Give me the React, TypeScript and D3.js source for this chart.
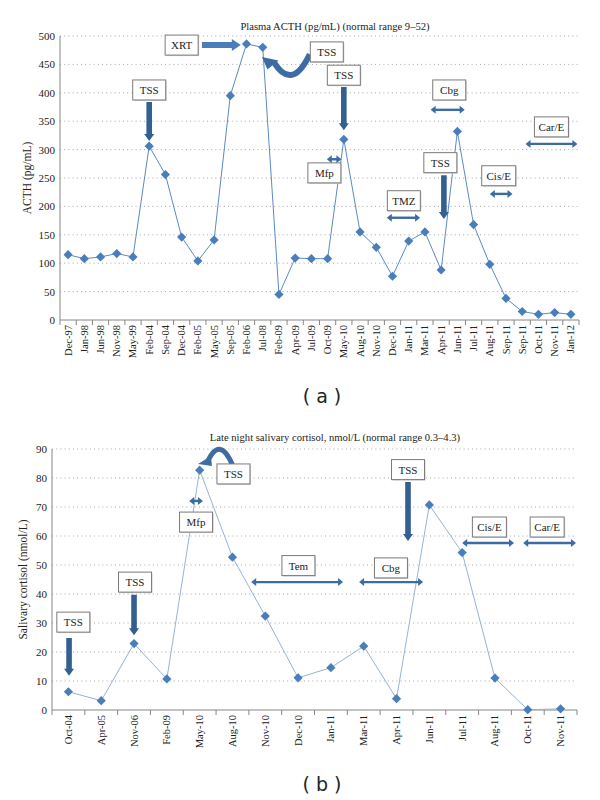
import React from "react";
import * as d3 from "d3";

// ---------- Data ----------
const acthDates = ["Dec-97","Jan-98","Jun-98","Nov-98","May-99","Feb-04","Sep-04","Dec-04","Feb-05","May-05","Sep-05","Feb-06","Jul-08","Feb-09","Apr-09","Jul-09","Oct-09","May-10","Aug-10","Nov-10","Dec-10","Jan-11","Mar-11","Apr-11","Jun-11","Jul-11","Aug-11","Sep-11","Sep-11","Oct-11","Nov-11","Jan-12"];
const acthValues = [115,108,111,117,111,306,256,146,104,141,395,486,480,45,109,108,108,318,155,128,77,139,155,88,332,168,98,38,15,10,13,10];
const acthTicks = [0,50,100,150,200,250,300,350,400,450,500];

const cortDates = ["Oct-04","Apr-05","Nov-06","Feb-09","May-10","Aug-10","Nov-10","Dec-10","Jan-11","Mar-11","Apr-11","Jun-11","Jul-11","Aug-11","Oct-11","Nov-11"];
const cortValues = [6.3,3.2,22.9,10.7,82.7,52.7,32.4,11.1,14.6,22.0,3.9,70.7,54.3,11.0,0.1,0.4];
const cortTicks = [0,10,20,30,40,50,60,70,80,90];

// annotations in data space (x = category index, y = value)
const acthBoxes = [
  { t: "XRT", x: 7.0, y: 484 },
  { t: "TSS", x: 5.0, y: 405 },
  { t: "TSS", x: 15.95, y: 472 },
  { t: "TSS", x: 17.0, y: 431 },
  { t: "Mfp", x: 15.8, y: 259 },
  { t: "Cbg", x: 23.5, y: 405 },
  { t: "TSS", x: 22.95, y: 277 },
  { t: "Cis/E", x: 26.55, y: 254 },
  { t: "Car/E", x: 29.8, y: 340 },
  { t: "TMZ", x: 20.7, y: 210 },
];
const acthDown = [
  { x: 5.0, y1: 384, y2: 315 },
  { x: 17.0, y1: 410, y2: 334 },
  { x: 23.17, y1: 255, y2: 178 },
];
const acthDouble = [
  { x1: 15.95, x2: 16.85, y: 283 },
  { x1: 22.35, x2: 24.45, y: 370 },
  { x1: 26.0, x2: 27.4, y: 222 },
  { x1: 28.2, x2: 31.4, y: 310 },
  { x1: 19.65, x2: 21.7, y: 180 },
];

const cortBoxes = [
  { t: "TSS", x: 0.15, y: 30.3 },
  { t: "TSS", x: 2.03, y: 44.1 },
  { t: "TSS", x: 5.03, y: 81.4 },
  { t: "Mfp", x: 3.89, y: 64.8 },
  { t: "Tem", x: 7.01, y: 49.8 },
  { t: "Cbg", x: 9.83, y: 49.0 },
  { t: "TSS", x: 10.35, y: 82.9 },
  { t: "Cis/E", x: 12.83, y: 63.1 },
  { t: "Car/E", x: 14.59, y: 63.1 },
];
const cortDown = [
  { x: 0.02, y1: 24.8, y2: 11.8 },
  { x: 2.0, y1: 39.7, y2: 25.8 },
  { x: 10.35, y1: 78.6, y2: 58.3 },
];
const cortDouble = [
  { x1: 3.68, x2: 4.1, y: 72.1 },
  { x1: 5.57, x2: 8.37, y: 44.1 },
  { x1: 8.86, x2: 10.81, y: 44.1 },
  { x1: 12.0, x2: 13.58, y: 57.6 },
  { x1: 13.86, x2: 15.47, y: 57.6 },
];

const FONT = "'Liberation Serif', 'Times New Roman', serif";
const AXIS = "#868686";
const DARK = "#335f91";
const MID = "#3d6ca3";

function diamond(cx: number, cy: number, r: number) {
  return `M${cx},${cy - r}L${cx + r},${cy}L${cx},${cy + r}L${cx - r},${cy}Z`;
}

function Box({ x, y, t, w = 33, h = 20 }: any) {
  return (
    <g>
      <rect x={x - w / 2 + 1} y={y - h / 2 + 1} width={w} height={h} fill="#d0d0d0" />
      <rect x={x - w / 2} y={y - h / 2} width={w} height={h} fill="#fff" stroke="#7a7a7a" strokeWidth={1} />
      <text x={x} y={y + 4} textAnchor="middle" fontFamily={FONT} fontSize={11} fill="#222">{t}</text>
    </g>
  );
}

function DownArrow({ x, y1, y2 }: any) {
  const sw = 2.8, hw = 5, hl = 7;
  const d = `M${x - sw},${y1}L${x + sw},${y1}L${x + sw},${y2 - hl}L${x + hw},${y2 - hl}L${x},${y2}L${x - hw},${y2 - hl}L${x - sw},${y2 - hl}Z`;
  return <path d={d} fill={DARK} />;
}

function DoubleArrow({ x1, x2, y }: any) {
  const hl = 5, hw = 4;
  return (
    <g>
      <line x1={x1 + 2} x2={x2 - 2} y1={y} y2={y} stroke={MID} strokeWidth={2.4} />
      <path d={`M${x1},${y}L${x1 + hl},${y - hw}L${x1 + hl},${y + hw}Z`} fill={MID} />
      <path d={`M${x2},${y}L${x2 - hl},${y - hw}L${x2 - hl},${y + hw}Z`} fill={MID} />
    </g>
  );
}

function Chart({ dates, values, ticks, left, right, top, bottom, yMax, title, titleY, yLabel, yLabelX, lineColor, boxes, downs, doubles, extra, labelY, w }: any) {
  const idx = dates.map((_: any, i: number) => i);
  const xb = d3.scaleBand<number>().domain(idx).range([left, right]).padding(0);
  const bw = xb.bandwidth();
  const fx = (i: number) => left + (i + 0.5) * bw;
  const y = d3.scaleLinear().domain([0, yMax]).range([bottom, top]);
  const line = d3.line<number>().x((_, i) => (xb(i) as number) + bw / 2).y((v) => y(v));
  return (
    <g>
      <text x={335} y={titleY} textAnchor="middle" fontFamily={FONT} fontSize={10.6} fill="#222">{title}</text>
      {ticks.map((t: number) => (
        <g key={t}>
          {t > 0 && <line x1={left} x2={right} y1={y(t)} y2={y(t)} stroke="#a6a6a6" strokeDasharray="1,3.2" />}
          <text x={left - 5} y={y(t) + 4} textAnchor="end" fontFamily={FONT} fontSize={11} fill="#222">{t}</text>
        </g>
      ))}
      <line x1={left} x2={left} y1={y(yMax)} y2={bottom} stroke={AXIS} />
      <line x1={left} x2={right} y1={bottom} y2={bottom} stroke={AXIS} />
      {d3.range(dates.length + 1).map((i: number) => (
        <line key={i} x1={left + i * bw} x2={left + i * bw} y1={bottom} y2={bottom + 5} stroke={AXIS} />
      ))}
      {dates.map((dd: string, i: number) => (
        <text key={i} transform={`translate(${(xb(i) as number) + bw / 2 + 3.5},${labelY}) rotate(-90)`} textAnchor="end" fontFamily={FONT} fontSize={10.5} fill="#222">{dd}</text>
      ))}
      <text transform={`translate(${yLabelX},${(top + bottom) / 2}) rotate(-90)`} textAnchor="middle" fontFamily={FONT} fontSize={11.5} fill="#222">{yLabel}</text>
      <path d={line(values) as string} fill="none" stroke={lineColor} strokeWidth={w} />
      {values.map((v: number, i: number) => (
        <path key={i} d={diamond((xb(i) as number) + bw / 2, y(v), 4.6)} fill="#4a7ebb" />
      ))}
      {downs.map((a: any, i: number) => <DownArrow key={i} x={fx(a.x)} y1={y(a.y1)} y2={y(a.y2)} />)}
      {doubles.map((a: any, i: number) => <DoubleArrow key={i} x1={fx(a.x1)} x2={fx(a.x2)} y={y(a.y)} />)}
      {extra(fx, y)}
      {boxes.map((b: any, i: number) => <Box key={i} x={fx(b.x)} y={y(b.y)} t={b.t} w={b.t.length > 3 ? 34 : 33} />)}
    </g>
  );
}

export default function App() {
  const topExtra = (fx: any, y: any) => {
    // XRT right arrow
    const x1 = fx(8.25), x2 = fx(10.65), yy = y(484);
    const sw = 3, hw = 6, hl = 9;
    const d = `M${x1},${yy - sw}L${x2 - hl},${yy - sw}L${x2 - hl},${yy - hw}L${x2},${yy}L${x2 - hl},${yy + hw}L${x2 - hl},${yy + sw}L${x1},${yy + sw}Z`;
    // curved arrow from TSS box to Jul-08
    const sx = fx(14.9), sy = y(468), cx = fx(13.3), cy = y(405), ex = fx(12.35), ey = y(455);
    return (
      <g>
        <path d={d} fill="#4a7ebb" />
        <path d={`M${sx},${sy}Q${cx + 8},${cy + 2} ${ex + 5},${ey}`} fill="none" stroke={MID} strokeWidth={6} />
        <path d={`M${fx(11.95)},${y(463)}L${ex + 10},${ey - 1}L${ex - 1},${ey + 8}Z`} fill={MID} />
      </g>
    );
  };
  const botExtra = (fx: any, y: any) => {
    const sx = fx(5.0), sy = y(84.5), ex = fx(4.1), ey = y(85.5);
    return (
      <g>
        <path d={`M${sx},${sy}Q${fx(4.6)},${y(95)} ${ex + 4},${ey + 1}`} fill="none" stroke={MID} strokeWidth={5} />
        <path d={`M${fx(3.95)},${y(84.8)}L${ex + 8},${y(84.8) - 8}L${ex + 9},${y(84.8) + 2}Z`} fill={MID} />
      </g>
    );
  };
  return (
    <svg width={600} height={800} style={{ position: "absolute", left: 0, top: 0, background: "#fff" }}>
      <rect width={600} height={800} fill="#fff" />
      <Chart dates={acthDates} values={acthValues} ticks={acthTicks} left={60} right={579} top={36} bottom={320} yMax={500}
        title="Plasma ACTH (pg/mL) (normal range 9–52)" titleY={30} yLabel="ACTH (pg/mL)" yLabelX={31}
        lineColor="#5b8ac6" w={1} boxes={acthBoxes} downs={acthDown} doubles={acthDouble} extra={topExtra} labelY={325} />
      <text x={322} y={403} textAnchor="middle" fontFamily="'DejaVu Sans', sans-serif" fontSize={19} fill="#222">( a )</text>
      <Chart dates={cortDates} values={cortValues} ticks={cortTicks} left={52} right={577} top={449} bottom={710} yMax={90}
        title="Late night salivary cortisol, nmol/L (normal range 0.3–4.3)" titleY={441} yLabel="Salivary cortisol (nmol/L)" yLabelX={27}
        lineColor="#95b3d7" w={1} boxes={cortBoxes} downs={cortDown} doubles={cortDouble} extra={botExtra} labelY={715} />
      <text x={322} y={791} textAnchor="middle" fontFamily="'DejaVu Sans', sans-serif" fontSize={19} fill="#222">( b )</text>
    </svg>
  );
}
